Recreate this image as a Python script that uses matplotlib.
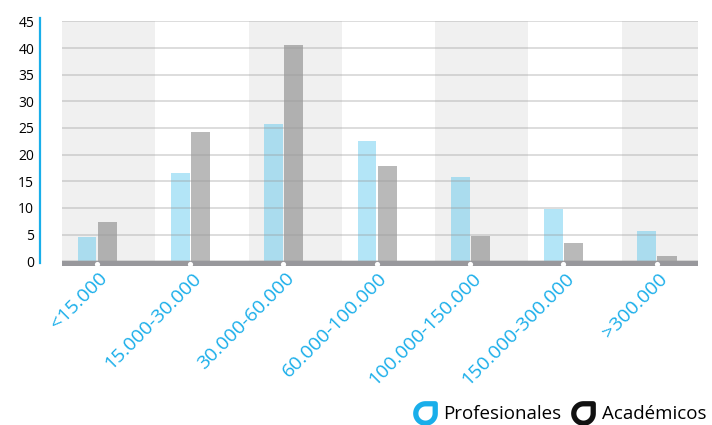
import numpy as np
import matplotlib
matplotlib.use("Agg")
import matplotlib.pyplot as plt
from matplotlib.lines import Line2D
from matplotlib.path import Path

categories = ["<15.000", "15.000-30.000", "30.000-60.000", "60.000-100.000",
              "100.000-150.000", "150.000-300.000", ">300.000"]
profesionales = [4.5, 16.5, 25.7, 22.5, 15.7, 9.7, 5.6]
academicos = [7.3, 24.3, 40.6, 17.8, 4.7, 3.4, 0.9]
yticks = [0, 5, 10, 15, 20, 25, 30, 35, 40, 45]

BLUE_TXT = "#19aeea"
BLUE_BAR = "#41beed"
GRAY_BAR = "#525252"

plt.rcParams["font.family"] = ["Open Sans", "DejaVu Sans"]

fig = plt.figure(figsize=(7.12, 4.25), dpi=100)
ax = fig.add_axes([0.0871, 0.373, 0.8932, 0.578])

x = np.arange(len(categories))

# alternating background bands
for i in x[::2]:
    ax.axvspan(i - 0.368, i + 0.632, color="#f0f0f0", lw=0, zorder=0)

ax.bar(x - 0.2, profesionales, width=0.2, align="edge", color=BLUE_BAR,
       alpha=0.4, lw=0, zorder=1)
ax.bar(x + 0.015, academicos, width=0.205, align="edge", color=GRAY_BAR,
       alpha=0.4, lw=0, zorder=1)

# baseline with white dots
ax.axhspan(-1.0, 0, color="#98989c", lw=0, zorder=4)
ax.scatter(x + 0.005, np.full(len(x), -0.5), s=14, color="white", lw=0, zorder=5)

ax.set_xlim(-0.368, 6.449)
ax.set_ylim(-1.0, 45.1)
ax.set_yticks(yticks)
ax.set_yticklabels([str(v) for v in yticks], color=BLUE_TXT, fontsize=14)
ax.tick_params(axis="y", length=0, pad=4)
ax.set_xticks([])

ax.set_axisbelow(False)
ax.yaxis.grid(True, color="#999999", alpha=0.4, lw=1.2)

for side in ["top", "right", "bottom"]:
    ax.spines[side].set_visible(False)
ax.spines["left"].set_position(("outward", 16))
ax.spines["left"].set_color(BLUE_TXT)
ax.spines["left"].set_linewidth(1.6)
ax.spines["left"].set_bounds(-0.4, 45.6)

for i, lab in enumerate(categories):
    ax.annotate(lab, xy=(i, 0), xycoords=("data", "axes fraction"),
                xytext=(2, -3), textcoords="offset pixels",
                rotation=45, rotation_mode="anchor", ha="right", va="top",
                color=BLUE_TXT, fontsize=14)

# legend marker: ring with one square corner (top right)
t = np.linspace(np.pi / 2, 2 * np.pi, 40)
verts = list(zip(np.cos(t), np.sin(t))) + [(1, 1), (0, 1)]
marker = Path(verts, closed=True)

handles = [
    Line2D([], [], ls="none", marker=marker, markersize=14, mfc="none",
           mec=BLUE_TXT, mew=3.8, label="Profesionales"),
    Line2D([], [], ls="none", marker=marker, markersize=14, mfc="none",
           mec="#111111", mew=3.8, label="Académicos"),
]
fig.legend(handles=handles, loc="lower right", bbox_to_anchor=(1.008, -0.022),
           ncol=2, frameon=False, fontsize=13.5, handlelength=1.3,
           handletextpad=0.35, columnspacing=0.5, borderaxespad=0.2)

fig.savefig("out.png", dpi=100)
